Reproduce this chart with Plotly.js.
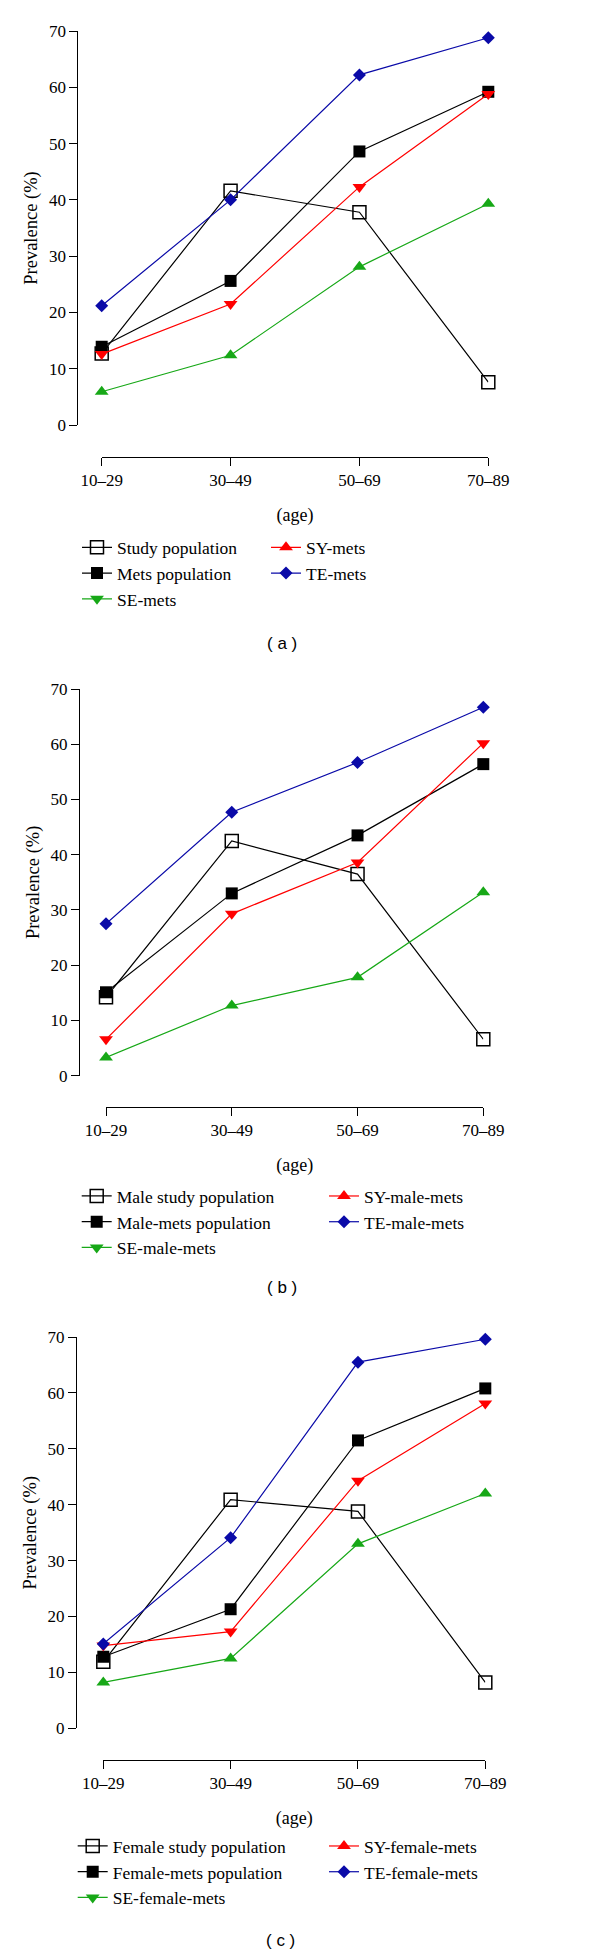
<!DOCTYPE html>
<html><head><meta charset="utf-8">
<script src="https://cdn.plot.ly/plotly-3.0.1.min.js"></script>
<style>body{margin:0;background:#fff}#chart{width:600px;height:1959px}</style>
</head><body><div id="chart"></div>
<script>
const ageGroups = ['10–29', '30–49', '50–69', '70–89'];

// (a) whole population
const studyA = [12.7, 41.6, 37.8, 7.6];
const metsA  = [13.9, 25.6, 48.6, 59.2];
const seA    = [5.9, 12.4, 28.1, 39.3];
const syA    = [12.6, 21.5, 42.3, 58.8];
const teA    = [21.2, 40.0, 62.2, 68.8];
const namesA = ['Study population', 'Mets population', 'SE-mets', 'SY-mets', 'TE-mets'];

// (b) male
const studyB = [14.2, 42.5, 36.5, 6.6];
const metsB  = [15.1, 33.0, 43.5, 56.4];
const seB    = [3.3, 12.7, 17.8, 33.2];
const syB    = [6.6, 29.3, 38.6, 60.2];
const teB    = [27.5, 47.7, 56.7, 66.7];
const namesB = ['Male study population', 'Male-mets population', 'SE-male-mets', 'SY-male-mets', 'TE-male-mets'];

// (c) female
const studyC = [11.9, 40.9, 38.8, 8.2];
const metsC  = [12.8, 21.3, 51.5, 60.8];
const seC    = [8.2, 12.5, 33.0, 42.0];
const syC    = [14.8, 17.3, 44.3, 58.1];
const teC    = [15.1, 34.1, 65.5, 69.6];
const namesC = ['Female study population', 'Female-mets population', 'SE-female-mets', 'SY-female-mets', 'TE-female-mets'];

const panelLabels = ['( a )', '( b )', '( c )'];
const yTitle = 'Prevalence (%)';
const xTitle = '(age)';

const W = 600, H = 1959;
const fx = p => p / W;
const fy = p => 1 - p / H;

const BLACK = '#000000', GREEN = '#17a817', RED = '#ff0000', BLUE = '#0a0aa8';
const SERIF = 'Liberation Serif, Times New Roman, serif';

// series styles: plot symbol, legend symbol (as drawn in the original legend), colour, size
const styles = [
  {sym: 'square-open', leg: 'square-open', color: BLACK, size: 13},
  {sym: 'square', leg: 'square', color: BLACK, size: 12},
  {sym: 'triangle-up', leg: 'triangle-down', color: GREEN, size: 12},
  {sym: 'triangle-down', leg: 'triangle-up', color: RED, size: 12},
  {sym: 'diamond', leg: 'diamond', color: BLUE, size: 10}
];

const panels = [
  {data: [studyA, metsA, seA, syA, teA], names: namesA,
   xL: 101.7, xR: 488.3, yTop: 31, yBot: 425, yAxisX: 77.3, xAxisY: 457,
   col1: 117, col2: 306, legY: 529.4, label: 643, labelX: 282},
  {data: [studyB, metsB, seB, syB, teB], names: namesB,
   xL: 106, xR: 483.3, yTop: 689, yBot: 1075.7, yAxisX: 79, xAxisY: 1106.7,
   col1: 116.7, col2: 364, legY: 1178.1, label: 1287, labelX: 282},
  {data: [studyC, metsC, seC, syC, teC], names: namesC,
   xL: 103.3, xR: 485.3, yTop: 1337, yBot: 1728.3, yAxisX: 76, xAxisY: 1760,
   col1: 112.7, col2: 364, legY: 1828.1, label: 1940, labelX: 280}
];

const traces = [];
const layout = {
  width: W, height: H,
  margin: {l: 0, r: 0, t: 0, b: 0},
  paper_bgcolor: '#fff', plot_bgcolor: 'rgba(0,0,0,0)',
  showlegend: true,
  annotations: []
};

// legend columns: left = Study, Mets, SE ; right = SY, TE
const columns = [[0, 1, 2], [3, 4]];

panels.forEach((p, i) => {
  const n = i === 0 ? '' : String(i + 1);
  const xa = 'x' + n, ya = 'y' + n;
  p.data.forEach((vals, k) => {
    const s = styles[k];
    traces.push({
      type: 'scatter', mode: 'lines+markers', x: ageGroups, y: vals,
      xaxis: xa, yaxis: ya, name: p.names[k], showlegend: false, cliponaxis: false,
      line: {color: s.color, width: 1.2},
      marker: {symbol: s.sym, size: s.size, color: s.color, line: {color: s.color, width: s.sym === 'square-open' ? 1.5 : 0}}
    });
  });
  columns.forEach((col, c) => {
    const idx = i * 2 + c + 1;
    const legName = idx === 1 ? 'legend' : 'legend' + idx;
    col.forEach(k => {
      const s = styles[k];
      traces.push({
        type: 'scatter', mode: 'lines+markers', x: [null], y: [null],
        xaxis: xa, yaxis: ya, name: p.names[k], legend: legName, showlegend: true,
        line: {color: s.color, width: 1.2},
        marker: {symbol: s.leg, size: s.size, color: s.color, line: {color: s.color, width: s.leg === 'square-open' ? 1.5 : 0}}
      });
    });
    layout[legName] = {
      x: fx((c === 0 ? p.col1 : p.col2) - 40), y: fy(p.legY), xanchor: 'left', yanchor: 'top',
      orientation: 'v', itemwidth: 30, traceorder: 'normal', bgcolor: 'rgba(0,0,0,0)',
      font: {family: SERIF, size: 17.5, color: BLACK}
    };
  });

  layout['xaxis' + n] = {
    type: 'category', categoryarray: ageGroups, range: [0, 3],
    domain: [fx(p.xL), fx(p.xR)], anchor: 'free', position: fy(p.xAxisY),
    showline: true, linecolor: BLACK, linewidth: 1, mirror: false,
    ticks: 'outside', ticklen: 8, tickcolor: BLACK, tickwidth: 1,
    showgrid: false, zeroline: false, fixedrange: true,
    tickfont: {family: SERIF, size: 17, color: BLACK},
    title: {text: xTitle, font: {family: SERIF, size: 18, color: BLACK}}
  };
  layout['yaxis' + n] = {
    range: [0, 70], dtick: 10, tick0: 0,
    domain: [fy(p.yBot), fy(p.yTop)], anchor: 'free', position: fx(p.yAxisX),
    showline: true, linecolor: BLACK, linewidth: 1,
    ticks: 'outside', ticklen: 8, tickcolor: BLACK, tickwidth: 1,
    showgrid: false, zeroline: false, fixedrange: true,
    tickfont: {family: SERIF, size: 17, color: BLACK},
    title: {text: yTitle, standoff: 5, font: {family: SERIF, size: 18.5, color: BLACK}}
  };
  layout.annotations.push({
    xref: 'paper', yref: 'paper', x: fx(p.labelX), y: fy(p.label),
    xanchor: 'center', yanchor: 'middle', showarrow: false,
    text: panelLabels[i], font: {family: 'Liberation Sans, Arial, sans-serif', size: 17, color: BLACK}
  });
});

Plotly.newPlot('chart', traces, layout, {staticPlot: true, displayModeBar: false});
</script>
</body></html>
